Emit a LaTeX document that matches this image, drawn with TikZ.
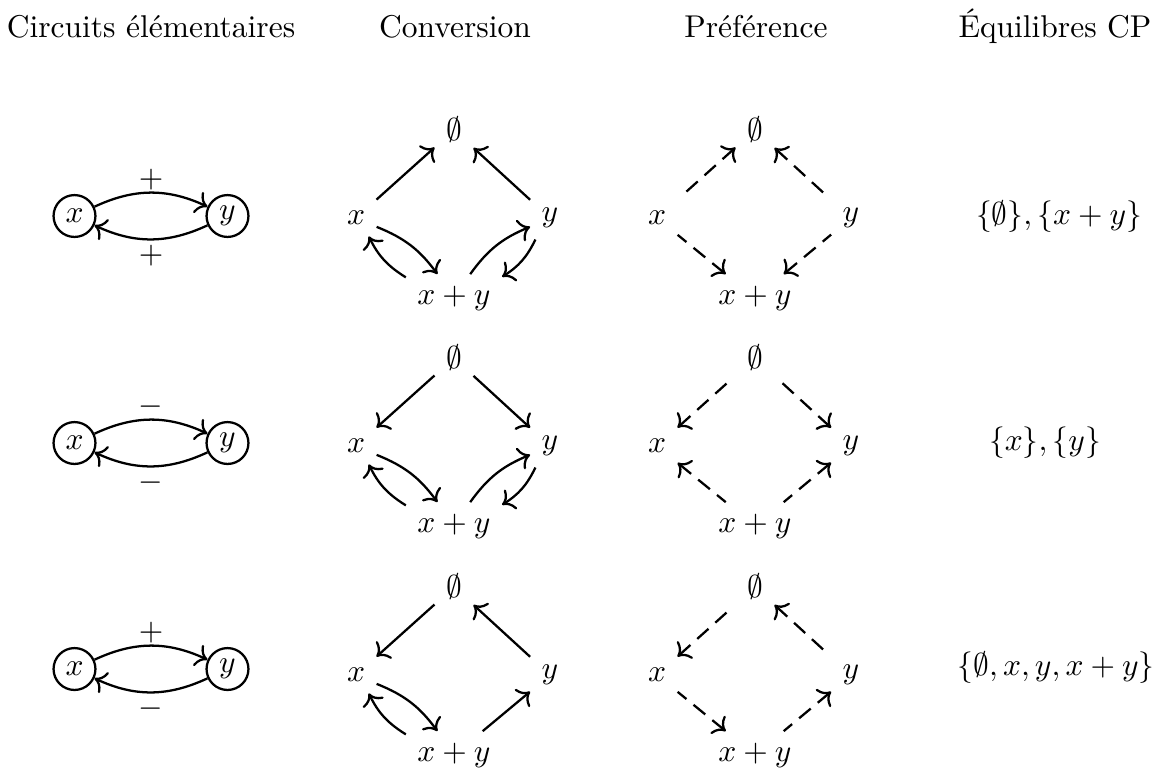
\documentclass[tikz,border=0pt]{standalone}
\usetikzlibrary{arrows.meta}
\begin{document}
\begin{tikzpicture}[x=0.3175pt,y=-0.3175pt,line width=0.72pt,>={To[scale=1.1]},
  circ/.style={circle,draw,minimum size=13.3pt,inner sep=0pt},
  conv/.style={->},
  pref/.style={<-,dash pattern=on 4.8pt off 2.9pt},
  prefup/.style={pref,shorten >=1.6pt},
  lblup/.style={above,inner sep=0.5pt},
  lbldown/.style={below,inner sep=1.5pt},
  title/.style={anchor=base}]
\useasboundingbox (0,0) rectangle (1157,767);

% titles
\node[title] (t1) at (151,37) {Circuits élémentaires};
\node[title] (t2) at (455,37) {Conversion};
\node[title] (t3) at (756,37) {Préférence};
\node[title] (t4) at (1055,37) {Équilibres CP};

% ---------- row 1 ----------
\node[circ] (c1x) at (74.5,216) {$x$};
\node[circ] (c1y) at (227.5,216) {$y$};
\draw[->] (c1x) to[bend left=25] node[lblup] (l1a) {$+$} (c1y);
\draw[->] (c1y) to[bend left=25] node[lbldown] (l1b) {$+$} (c1x);

\node (a1e) at (454,130) {$\emptyset$};
\node (a1x) at (356,218) {$x$};
\node (a1y) at (550,218) {$y$};
\node (a1s) at (454,298) {$x+y$};
\draw[conv] (a1x) -- (a1e);
\draw[conv] (a1y) -- (a1e);
\draw[conv] (a1x) to[bend left=16] (a1s);
\draw[conv] (a1s) to[bend left=16] (a1x);
\draw[conv] (a1s) to[bend left=16] (a1y);
\draw[conv] (a1y) to[bend left=16] (a1s);

\node (p1e) at (755,130) {$\emptyset$};
\node (p1x) at (657,218) {$x$};
\node (p1y) at (851,218) {$y$};
\node (p1s) at (755,298) {$x+y$};
% arrows drawn from their heads (style pref uses <-)
\draw[prefup] (p1e) -- (p1x);
\draw[prefup] (p1e) -- (p1y);
\draw[pref] (p1s) -- (p1x);
\draw[pref] (p1s) -- (p1y);

\node (q1) at (1059,217) {$\{\emptyset\},\{x+y\}$};

% ---------- row 2 ----------
\node[circ] (c2x) at (74.5,443) {$x$};
\node[circ] (c2y) at (227.5,443) {$y$};
\draw[->] (c2x) to[bend left=25] node[lblup] (l2a) {$-$} (c2y);
\draw[->] (c2y) to[bend left=25] node[lbldown] (l2b) {$-$} (c2x);

\node (a2e) at (454,358) {$\emptyset$};
\node (a2x) at (356,446) {$x$};
\node (a2y) at (550,446) {$y$};
\node (a2s) at (454,526) {$x+y$};
\draw[conv] (a2e) -- (a2x);
\draw[conv] (a2e) -- (a2y);
\draw[conv] (a2x) to[bend left=16] (a2s);
\draw[conv] (a2s) to[bend left=16] (a2x);
\draw[conv] (a2s) to[bend left=16] (a2y);
\draw[conv] (a2y) to[bend left=16] (a2s);

\node (p2e) at (755,358) {$\emptyset$};
\node (p2x) at (657,446) {$x$};
\node (p2y) at (851,446) {$y$};
\node (p2s) at (755,526) {$x+y$};
\draw[prefup] (p2x) -- (p2e);
\draw[prefup] (p2y) -- (p2e);
\draw[pref] (p2x) -- (p2s);
\draw[pref] (p2y) -- (p2s);

\node (q2) at (1045,443) {$\{x\},\{y\}$};

% ---------- row 3 ----------
\node[circ] (c3x) at (74.5,669) {$x$};
\node[circ] (c3y) at (227.5,669) {$y$};
\draw[->] (c3x) to[bend left=25] node[lblup] (l3a) {$+$} (c3y);
\draw[->] (c3y) to[bend left=25] node[lbldown] (l3b) {$-$} (c3x);

\node (a3e) at (454,587) {$\emptyset$};
\node (a3x) at (356,675) {$x$};
\node (a3y) at (550,675) {$y$};
\node (a3s) at (454,755) {$x+y$};
\draw[conv] (a3e) -- (a3x);
\draw[conv] (a3y) -- (a3e);
\draw[conv] (a3x) to[bend left=16] (a3s);
\draw[conv] (a3s) to[bend left=16] (a3x);
\draw[conv] (a3s) -- (a3y);

\node (p3e) at (755,587) {$\emptyset$};
\node (p3x) at (657,675) {$x$};
\node (p3y) at (851,675) {$y$};
\node (p3s) at (755,755) {$x+y$};
\draw[prefup] (p3x) -- (p3e);
\draw[prefup] (p3e) -- (p3y);
\draw[pref] (p3s) -- (p3x);
\draw[pref] (p3y) -- (p3s);

\node (q3) at (1056,668) {$\{\emptyset,x,y,x+y\}$};
\end{tikzpicture}
\end{document}
